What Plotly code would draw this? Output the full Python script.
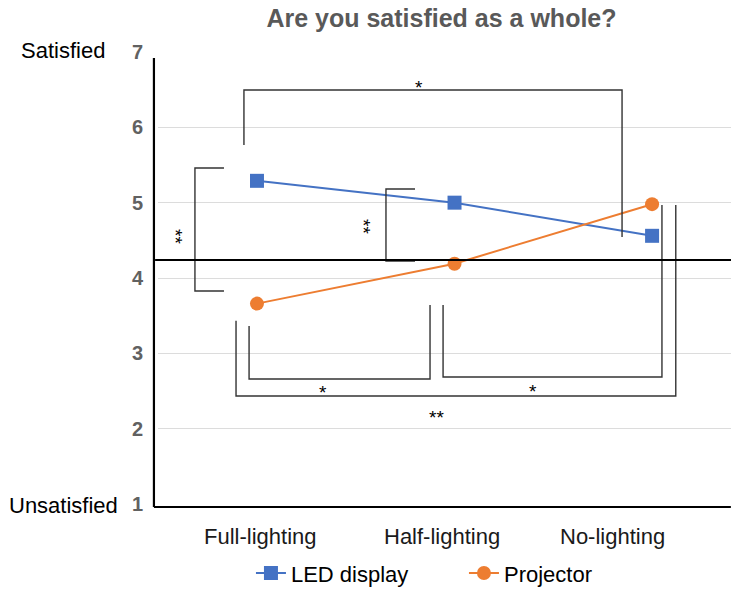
import plotly.graph_objects as go

categories = ["Full-lighting", "Half-lighting", "No-lighting"]
led_values = [5.29, 5.00, 4.56]
projector_values = [3.66, 4.19, 4.98]
y_ticks = [1, 2, 3, 4, 5, 6, 7]
neutral_value = 4.24
# category label offsets (in category units) as placed in the reference
label_positions = [0.02, 0.937, 1.80]

# significance brackets: (x_left, x_right, y_left_end, y_bar, y_right_end)
brackets_h = [
    (-0.066, 1.848, 5.766, 6.496, 4.544),   # top *
    (-0.04, 0.876, 3.363, 2.659, 3.642),    # full-half *
    (0.942, 2.05, 3.642, 2.686, 4.969),     # half-no *
    (-0.106, 2.12, 3.433, 2.434, 4.969),    # full-no **
]
# vertical brackets: (x_bar, x_tip, y_top, y_bottom)
brackets_v = [
    (-0.314, -0.167, 5.460, 3.828),
    (0.653, 0.80, 5.182, 4.226),
]
stars = [
    (0.82, 6.60, "*", 0),
    (0.334, 2.54, "*", 0),
    (1.397, 2.566, "*", 0),
    (0.911, 2.221, "**", 0),
    (-0.385, 4.544, "**", 90),
    (0.567, 4.677, "**", 90),
]

FONT = "Arial, Liberation Sans, sans-serif"
fig = go.Figure()
fig.add_trace(go.Scatter(
    x=[0, 1, 2], y=led_values, name="LED display", mode="lines+markers",
    line=dict(color="#4472C4", width=2),
    marker=dict(symbol="square", size=14, color="#4472C4"),
))
fig.add_trace(go.Scatter(
    x=[0, 1, 2], y=projector_values, name="Projector", mode="lines+markers",
    line=dict(color="#ED7D31", width=2),
    marker=dict(symbol="circle", size=14, color="#ED7D31"),
))

shapes = []
lc = dict(color="#333333", width=1.4)
for xl, xr, yl, yb, yr in brackets_h:
    shapes.append(dict(type="path", xref="x", yref="y",
                       path=f"M {xl},{yl} L {xl},{yb} L {xr},{yb} L {xr},{yr}",
                       line=lc))
for xb, xt, yt, ybm in brackets_v:
    shapes.append(dict(type="path", xref="x", yref="y",
                       path=f"M {xt},{yt} L {xb},{yt} L {xb},{ybm} L {xt},{ybm}",
                       line=lc))
# neutral line
shapes.append(dict(type="line", xref="paper", yref="y", x0=-0.005, x1=0.988,
                   y0=neutral_value, y1=neutral_value,
                   line=dict(color="black", width=2)))
# axis lines
shapes.append(dict(type="line", xref="paper", yref="paper", x0=-0.007, x1=-0.007,
                   y0=-0.0066, y1=0.9867, line=dict(color="black", width=2.2)))
shapes.append(dict(type="line", xref="paper", yref="paper", x0=-0.007, x1=0.986,
                   y0=-0.0066, y1=-0.0066, line=dict(color="black", width=2.2)))

annotations = []
for x, y, t, ang in stars:
    annotations.append(dict(x=x, y=y, xref="x", yref="y", text=t, showarrow=False,
                            textangle=ang, font=dict(size=19, color="black", family=FONT),
                            yshift=-5 if ang == 0 else 0, xshift=-5 if ang else 0))
for pos, lab in zip(label_positions, categories):
    annotations.append(dict(x=pos, y=-0.073, xref="x", yref="paper", text=lab,
                            showarrow=False, yanchor="middle",
                            font=dict(size=22, color="#1a1a1a", family=FONT)))
annotations.append(dict(x=-0.0878, y=1.004, xref="paper", yref="paper", text="Satisfied",
                        showarrow=False, xanchor="right", yanchor="middle",
                        font=dict(size=22, color="black", family=FONT)))
annotations.append(dict(x=-0.0654, y=-0.004, xref="paper", yref="paper", text="Unsatisfied",
                        showarrow=False, xanchor="right", yanchor="middle",
                        font=dict(size=22, color="black", family=FONT)))

fig.update_layout(
    width=739, height=589,
    margin=dict(l=150, r=8, t=44, b=93, autoexpand=False),
    paper_bgcolor="white", plot_bgcolor="white",
    title=dict(text="Are you satisfied as a whole?", x=0.5866, xref="container",
               y=0.983, yref="container", xanchor="center", yanchor="middle",
               font=dict(size=25, color="#595959", family=FONT, weight="bold")),
    xaxis=dict(range=[-0.501, 2.44], showgrid=False, zeroline=False,
               showticklabels=False, showline=False),
    yaxis=dict(range=[1, 7], tickvals=y_ticks, showgrid=True, gridcolor="#dcdcdc",
               gridwidth=1, zeroline=False, showline=False, ticks="",
               ticklabelstandoff=14,
               tickfont=dict(size=20, color="#616161", family=FONT, weight="bold")),
    legend=dict(orientation="h", x=0.160, xanchor="left", y=-0.153, yanchor="middle",
                font=dict(size=22, color="black", family=FONT),
                entrywidth=168, entrywidthmode="pixels", bgcolor="rgba(0,0,0,0)"),
    shapes=shapes, annotations=annotations,
)
fig.write_html("out.html")
